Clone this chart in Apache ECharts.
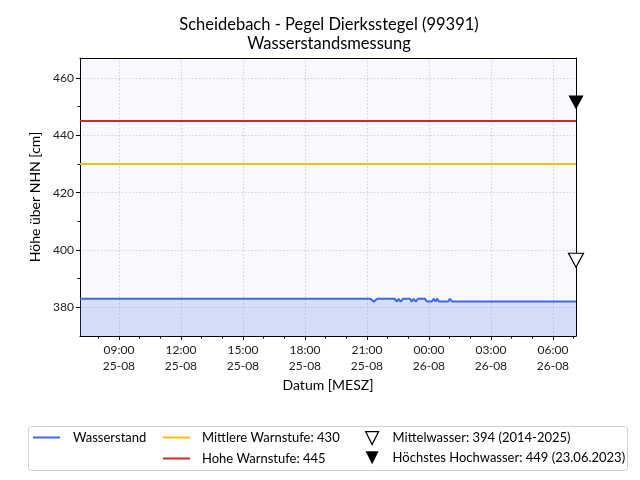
<!DOCTYPE html>
<html><head><meta charset="utf-8">
<script src="https://cdn.jsdelivr.net/npm/echarts@6/dist/echarts.min.js"></script>
<style>html,body{margin:0;padding:0;background:#fff}#c{width:640px;height:480px}</style>
</head><body><div id="c"></div>
<script>
const titleLine1 = 'Scheidebach - Pegel Dierksstegel (99391)';
const titleLine2 = 'Wasserstandsmessung';
const yAxisName = 'Höhe über NHN [cm]';
const xAxisName = 'Datum [MESZ]';

const axisStart = '2025-08-25 07:07';
const axisEnd = '2025-08-26 07:07';

const levelTimes = [
  '2025-08-25 07:07', '2025-08-25 21:10', '2025-08-25 21:20', '2025-08-25 21:30',
  '2025-08-25 22:20', '2025-08-25 22:27', '2025-08-25 22:32', '2025-08-25 22:38',
  '2025-08-25 22:45', '2025-08-25 23:05', '2025-08-25 23:10', '2025-08-25 23:16',
  '2025-08-25 23:22', '2025-08-25 23:28', '2025-08-25 23:48', '2025-08-25 23:55',
  '2025-08-26 00:08', '2025-08-26 00:14', '2025-08-26 00:19', '2025-08-26 00:24',
  '2025-08-26 00:29', '2025-08-26 00:55', '2025-08-26 01:01', '2025-08-26 01:07',
  '2025-08-26 07:07'
];
const levelValues = [
  383, 383, 382, 383,
  383, 382, 383, 382,
  383, 383, 382, 383,
  382, 383, 383, 382,
  382, 383, 382, 383,
  382, 382, 383, 382,
  382
];

const majorTickTimes = [
  '2025-08-25 09:00', '2025-08-25 12:00', '2025-08-25 15:00', '2025-08-25 18:00',
  '2025-08-25 21:00', '2025-08-26 00:00', '2025-08-26 03:00', '2025-08-26 06:00'
];
const minorTickTimes = [
  '2025-08-25 08:00', '2025-08-25 10:00', '2025-08-25 11:00', '2025-08-25 13:00',
  '2025-08-25 14:00', '2025-08-25 16:00', '2025-08-25 17:00', '2025-08-25 19:00',
  '2025-08-25 20:00', '2025-08-25 22:00', '2025-08-25 23:00', '2025-08-26 01:00',
  '2025-08-26 02:00', '2025-08-26 04:00', '2025-08-26 05:00', '2025-08-26 07:00'
];
const yMin = 370;
const yMax = 467;
const yMajorTicks = [380, 400, 420, 440, 460];
const yMinorTicks = [390, 410, 430, 450];

const mittlereWarnstufe = 430;
const hoheWarnstufe = 445;
const mittelwasser = 394;
const mittelwasserPeriod = '2014-2025';
const hoechstesHochwasser = 449;
const hoechstesHochwasserDate = '23.06.2023';

function t(s) {
  const [d, h] = s.split(' ');
  const [Y, M, D] = d.split('-').map(Number);
  const [hh, mm] = h.split(':').map(Number);
  return Date.UTC(Y, M - 1, D, hh, mm);
}
function pad(n) { return (n < 10 ? '0' : '') + n; }
function fmt(v) {
  const d = new Date(v);
  return pad(d.getUTCHours()) + ':' + pad(d.getUTCMinutes()) + '\n' + pad(d.getUTCDate()) + '-' + pad(d.getUTCMonth() + 1);
}

const FONT = 'Lato';
const xMin = t(axisStart), xMax = t(axisEnd);
const levelData = levelTimes.map((s, i) => [t(s), levelValues[i]]);

const nameLevel = 'Wasserstand';
const nameMW = 'Mittlere Warnstufe: ' + mittlereWarnstufe;
const nameHW = 'Hohe Warnstufe: ' + hoheWarnstufe;
const nameMittel = 'Mittelwasser: ' + mittelwasser + ' (' + mittelwasserPeriod + ')';
const nameHHW = 'Höchstes Hochwasser: ' + hoechstesHochwasser + ' (' + hoechstesHochwasserDate + ')';
const triDown = 'path://M0,0 L10,0 L5,10 Z';

const frameAxis = { type: 'value', axisLabel: { show: false }, axisTick: { show: false }, splitLine: { show: false },
  axisLine: { show: true, onZero: false, lineStyle: { color: '#000', width: 1 } } };

const chart = echarts.init(document.getElementById('c'));
chart.setOption({
  animation: false,
  textStyle: { fontFamily: FONT },
  graphic: [
    { type: 'text', z: 10, position: [329, 15],
      style: { text: titleLine1 + '\n' + titleLine2, x: 0, y: 0, font: '16.5px Lato', fill: '#000', align: 'center', lineHeight: 19 } },
    { type: 'rect', z: -1, shape: { x: 28.5, y: 426.5, width: 599, height: 44, r: 3 },
      style: { fill: '#fff', stroke: '#d0d0d0', lineWidth: 1 } }
  ],
  grid: { left: 80, right: 64, top: 58, bottom: 144, show: true, backgroundColor: '#f8f8ff', borderColor: '#000', borderWidth: 0 },
  xAxis: [
    { type: 'value', min: xMin, max: xMax, position: 'bottom',
      name: xAxisName, nameLocation: 'middle', nameGap: 40,
      nameTextStyle: { fontSize: 14, color: '#000', fontFamily: FONT },
      axisLine: { show: true, onZero: false, lineStyle: { color: '#000', width: 1 } },
      axisTick: { show: true, length: 4, customValues: majorTickTimes.map(t), lineStyle: { color: '#000' } },
      axisLabel: { customValues: majorTickTimes.map(t), formatter: fmt, fontSize: 12, color: '#222', lineHeight: 16, margin: 6, fontFamily: FONT },
      splitLine: { show: true, lineStyle: { type: [1.5, 2], color: '#c8c8c8', width: 0.8 } }
    },
    { type: 'value', min: xMin, max: xMax, position: 'bottom',
      axisLine: { show: false },
      axisTick: { show: true, length: 2.5, customValues: minorTickTimes.map(t), lineStyle: { color: '#000' } },
      axisLabel: { show: false },
      splitLine: { show: false }
    },
    Object.assign({}, frameAxis, { min: xMin, max: xMax, position: 'top' })
  ],
  yAxis: [
    { type: 'value', min: yMin, max: yMax, position: 'left',
      name: yAxisName, nameLocation: 'middle', nameGap: 37,
      nameTextStyle: { fontSize: 14, color: '#000', fontFamily: FONT },
      axisLine: { show: true, onZero: false, lineStyle: { color: '#000', width: 1 } },
      axisTick: { show: true, length: 4, customValues: yMajorTicks, lineStyle: { color: '#000' } },
      axisLabel: { customValues: yMajorTicks, fontSize: 12, color: '#222', margin: 6, fontFamily: FONT },
      splitLine: { show: true, lineStyle: { type: [1.5, 2], color: '#c8c8c8', width: 0.8 } }
    },
    { type: 'value', min: yMin, max: yMax, position: 'left',
      axisLine: { show: false },
      axisTick: { show: true, length: 2.5, customValues: yMinorTicks, lineStyle: { color: '#000' } },
      axisLabel: { show: false },
      splitLine: { show: false }
    },
    Object.assign({}, frameAxis, { min: yMin, max: yMax, position: 'right' })
  ],
  legend: [
    { left: 33, top: 431, padding: 0, orient: 'vertical', itemWidth: 27, itemHeight: 2, itemGap: 8,
      data: [{ name: nameLevel, icon: 'rect' }],
      textStyle: { fontSize: 13, color: '#000', padding: [0, 0, 0, 8], fontFamily: FONT } },
    { left: 163, top: 431, padding: 0, orient: 'vertical', itemWidth: 27, itemHeight: 2, itemGap: 8,
      data: [{ name: nameMW, icon: 'rect' }, { name: nameHW, icon: 'rect' }],
      textStyle: { fontSize: 13, color: '#000', padding: [0, 0, 0, 7], fontFamily: FONT } },
    { left: 365, top: 431, padding: 0, orient: 'vertical', itemWidth: 13, itemHeight: 14, itemGap: 6,
      data: [{ name: nameMittel, icon: triDown, itemStyle: { color: '#fff', borderColor: '#000', borderWidth: 1.2, opacity: 1 } },
             { name: nameHHW, icon: triDown, itemStyle: { color: '#000', opacity: 1 } }],
      textStyle: { fontSize: 13, color: '#000', padding: [0, 0, 0, 9], fontFamily: FONT } }
  ],
  series: [
    { name: nameLevel, type: 'line', data: levelData, showSymbol: false, z: 3,
      lineStyle: { color: '#4169e1', width: 2 }, itemStyle: { color: '#4169e1' },
      areaStyle: { origin: 'start', color: 'rgba(90,135,225,0.32)' } },
    { name: nameMW, type: 'line', data: [[xMin, mittlereWarnstufe], [xMax, mittlereWarnstufe]], showSymbol: false, z: 3,
      lineStyle: { color: '#ffbf00', width: 2 }, itemStyle: { color: '#ffbf00' } },
    { name: nameHW, type: 'line', data: [[xMin, hoheWarnstufe], [xMax, hoheWarnstufe]], showSymbol: false, z: 3,
      lineStyle: { color: '#d62728', width: 2 }, itemStyle: { color: '#d62728' } },
    { name: nameMittel, type: 'scatter', data: [[xMax, mittelwasser]], clip: false, z: 5,
      symbol: triDown, symbolSize: [15, 14], symbolOffset: [0, '-50%'],
      itemStyle: { color: '#fff', borderColor: '#000', borderWidth: 1.2, opacity: 1 } },
    { name: nameHHW, type: 'scatter', data: [[xMax, hoechstesHochwasser]], clip: false, z: 5,
      symbol: triDown, symbolSize: [15, 14], symbolOffset: [0, '-50%'],
      itemStyle: { color: '#000', opacity: 1 } }
  ]
});
</script>
</body></html>
